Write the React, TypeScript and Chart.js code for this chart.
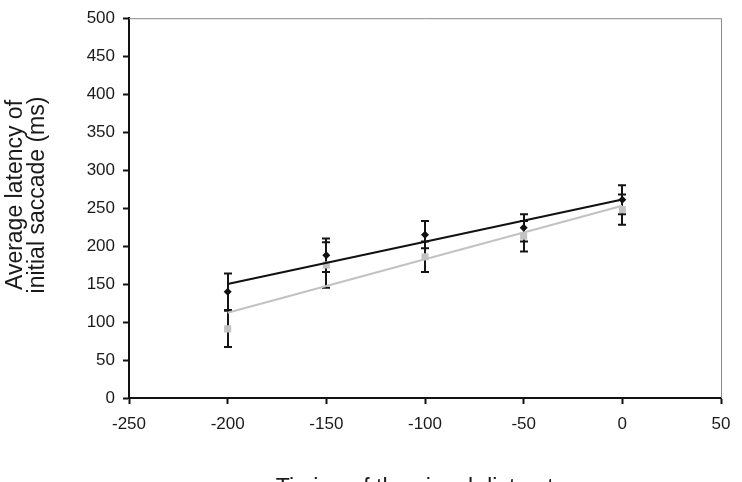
import { useEffect, useRef } from 'react';
import { Chart, registerables } from 'chart.js';

Chart.register(...registerables);

// Distractor onset relative to target (ms)
const distractorTiming = [-200, -150, -100, -50, 0];

// Condition A (black diamonds): mean latency and error
const latencyBlack = [140, 188, 215, 224, 261];
const errorBlack = [24, 22, 18, 18, 19];

// Condition B (grey squares): mean latency and error
const latencyGray = [91, 175, 186, 213, 248];
const errorGray = [24, 30, 20, 20, 20];

const xTickRange = [-250, 50];
const yTickRange = [0, 500];
const tickStep = 50;

const yTitleLines = ['Average latency of', 'initial saccade (ms)'];
const xTitle = 'Timing of the visual distractor';

const FONT = '"Liberation Sans", Arial, Helvetica, sans-serif';
const BLACK = '#111111';
const GRAY = '#c2c2c2';

// Least-squares linear fit, evaluated at the first and last x
function trendLine(xs: number[], ys: number[]) {
  const n = xs.length;
  const mx = xs.reduce((a, b) => a + b, 0) / n;
  const my = ys.reduce((a, b) => a + b, 0) / n;
  let sxy = 0;
  let sxx = 0;
  for (let i = 0; i < n; i++) {
    sxy += (xs[i] - mx) * (ys[i] - my);
    sxx += (xs[i] - mx) * (xs[i] - mx);
  }
  const slope = sxy / sxx;
  const icept = my - slope * mx;
  const x0 = Math.min(...xs);
  const x1 = Math.max(...xs);
  return [
    { x: x0, y: icept + slope * x0 },
    { x: x1, y: icept + slope * x1 },
  ];
}

const points = (ys: number[]) => distractorTiming.map((x, i) => ({ x, y: ys[i] }));

const framePlugin = {
  id: 'frame',
  beforeDatasetsDraw(chart: any) {
    const { ctx, chartArea: a } = chart;
    ctx.save();
    ctx.strokeStyle = '#8a8a8a';
    ctx.lineWidth = 1;
    ctx.beginPath();
    ctx.moveTo(a.left, a.top + 0.5);
    ctx.lineTo(a.right + 0.5, a.top + 0.5);
    ctx.lineTo(a.right + 0.5, a.bottom);
    ctx.stroke();
    ctx.restore();
  },
};

const errorBarPlugin = {
  id: 'errorBars',
  beforeDatasetsDraw(chart: any) {
    const { ctx } = chart;
    const xs = chart.scales.x;
    const ys = chart.scales.y;
    const series: [number[], number[]][] = [
      [latencyGray, errorGray],
      [latencyBlack, errorBlack],
    ];
    ctx.save();
    ctx.strokeStyle = '#151515';
    ctx.lineWidth = 2;
    for (const [vals, errs] of series) {
      vals.forEach((v, i) => {
        const px = Math.round(xs.getPixelForValue(distractorTiming[i]));
        const top = ys.getPixelForValue(v + errs[i]);
        const bot = ys.getPixelForValue(v - errs[i]);
        ctx.beginPath();
        ctx.moveTo(px, top);
        ctx.lineTo(px, bot);
        ctx.moveTo(px - 4, top);
        ctx.lineTo(px + 4, top);
        ctx.moveTo(px - 4, bot);
        ctx.lineTo(px + 4, bot);
        ctx.stroke();
      });
    }
    ctx.restore();
  },
};

const axisTitlePlugin = {
  id: 'axisTitles',
  afterDraw(chart: any) {
    const { ctx, chartArea: a } = chart;
    ctx.save();
    ctx.fillStyle = '#1a1a1a';
    ctx.font = `23px ${FONT}`;
    ctx.textAlign = 'center';
    ctx.textBaseline = 'middle';
    ctx.translate(16, 195);
    ctx.rotate(-Math.PI / 2);
    yTitleLines.forEach((line, i) => ctx.fillText(line, 0, i * 22));
    ctx.restore();

    ctx.save();
    ctx.fillStyle = '#1a1a1a';
    ctx.font = `23px ${FONT}`;
    ctx.textAlign = 'center';
    ctx.textBaseline = 'alphabetic';
    ctx.fillText(xTitle, (a.left + a.right) / 2, 495);
    ctx.restore();
  },
};

export default function App() {
  const canvasRef = useRef<HTMLCanvasElement | null>(null);

  useEffect(() => {
    const canvas = canvasRef.current;
    if (!canvas) return;
    document.body.style.margin = '0';
    document.body.style.overflow = 'hidden';

    const chart = new Chart(canvas, {
      type: 'scatter',
      data: {
        datasets: [
          {
            type: 'line',
            data: trendLine(distractorTiming, latencyGray),
            borderColor: GRAY,
            borderWidth: 2,
            pointRadius: 0,
            fill: false,
          },
          {
            type: 'line',
            data: trendLine(distractorTiming, latencyBlack),
            borderColor: BLACK,
            borderWidth: 2,
            pointRadius: 0,
            fill: false,
          },
          {
            data: points(latencyGray),
            pointStyle: 'rect',
            pointRadius: 5,
            backgroundColor: GRAY,
            borderColor: GRAY,
            borderWidth: 0,
            showLine: false,
          },
          {
            data: points(latencyBlack),
            pointStyle: 'rectRot',
            pointRadius: 4,
            backgroundColor: BLACK,
            borderColor: BLACK,
            borderWidth: 0,
            showLine: false,
          },
        ],
      },
      options: {
        animation: false,
        responsive: false,
        devicePixelRatio: 1,
        layout: { padding: { top: 10, right: 21, left: 0, bottom: 0 } },
        plugins: {
          legend: { display: false },
          tooltip: { enabled: false },
        },
        scales: {
          x: {
            type: 'linear',
            min: xTickRange[0],
            max: xTickRange[1],
            ticks: {
              stepSize: tickStep,
              color: '#1a1a1a',
              font: { family: FONT, size: 17 },
              padding: 10,
              maxRotation: 0,
            },
            grid: {
              drawOnChartArea: false,
              drawTicks: true,
              tickLength: 6,
              tickColor: '#111',
              tickWidth: 2,
            },
            border: { display: true, color: '#111', width: 2 },
            afterFit(scale: any) {
              scale.height = 102;
            },
          },
          y: {
            type: 'linear',
            min: yTickRange[0],
            max: yTickRange[1],
            ticks: {
              stepSize: tickStep,
              color: '#1a1a1a',
              font: { family: FONT, size: 17 },
              padding: 8,
            },
            grid: {
              drawOnChartArea: false,
              drawTicks: true,
              tickLength: 6,
              tickColor: '#111',
              tickWidth: 2,
            },
            border: { display: true, color: '#111', width: 2 },
            afterFit(scale: any) {
              scale.width = 129;
            },
          },
        },
      },
      plugins: [framePlugin, errorBarPlugin, axisTitlePlugin],
    });

    return () => chart.destroy();
  }, []);

  return (
    <div style={{ position: 'fixed', left: 0, top: 0, width: 742, height: 500 }}>
      <canvas ref={canvasRef} width={742} height={500} style={{ width: 742, height: 500, display: 'block' }} />
    </div>
  );
}
